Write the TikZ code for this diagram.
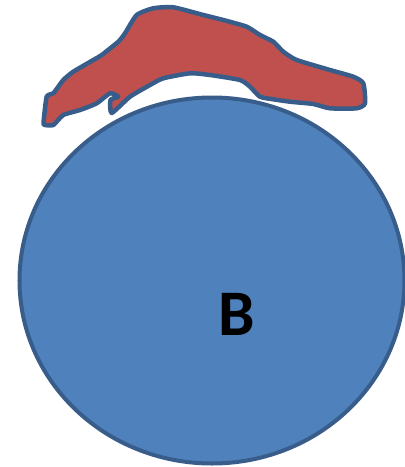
\documentclass[tikz,border=0pt]{standalone}
\usepackage{fontspec}
\setmainfont{Carlito}
\usetikzlibrary{shapes.geometric}
\definecolor{bfill}{HTML}{4F81BD}
\definecolor{bline}{HTML}{385D8A}
\definecolor{rfill}{HTML}{C0504D}
\tikzset{
  ball/.style={ellipse, draw=bline, fill=bfill, line width=4pt, inner sep=0pt},
  blob/.style={draw=bline, fill=rfill, line width=4.5pt, line join=round},
  lettr/.style={font=\fontsize{65}{65}\selectfont\bfseries, text=black, inner sep=0pt}
}
\begin{document}
\begin{tikzpicture}[x=1pt,y=-1pt]
\useasboundingbox (0,0) rectangle (405,467);
\node[ball, minimum width=385pt, minimum height=366pt] (ball) at (212,280.5) {};
\node[lettr] (B) at (237,314) {B};
\draw[blob] plot[smooth cycle, tension=0.35] coordinates {
 (43.5,123) (46.7,96.7) (53.3,93.3) (63.3,80) (73.3,71.7) (93.3,60) (101.7,55)
 (118.3,41.7) (125,33.3) (136.7,15) (153.3,8.3) (173.3,7.3) (203.3,15)
 (223.3,20) (246.7,26.7) (260,35) (273.3,41.7) (283.3,51.7) (296.7,60)
 (330,70) (353.3,76.7) (363.3,83.3) (365,103.3) (356.7,108.3) (330,108.3)
 (313.3,104) (290,101.7) (273.3,99.3) (260,96.7) (250,86.7) (240,80)
 (210,75) (190,73.3) (163.3,78.3) (150,85) (130,96.7) (111.7,113)
 (110.5,100) (118.3,96.7) (110,93.3) (96.7,103.3) (80,110) (63.3,115)
 (53.3,125) (45,125)};
\end{tikzpicture}
\end{document}
